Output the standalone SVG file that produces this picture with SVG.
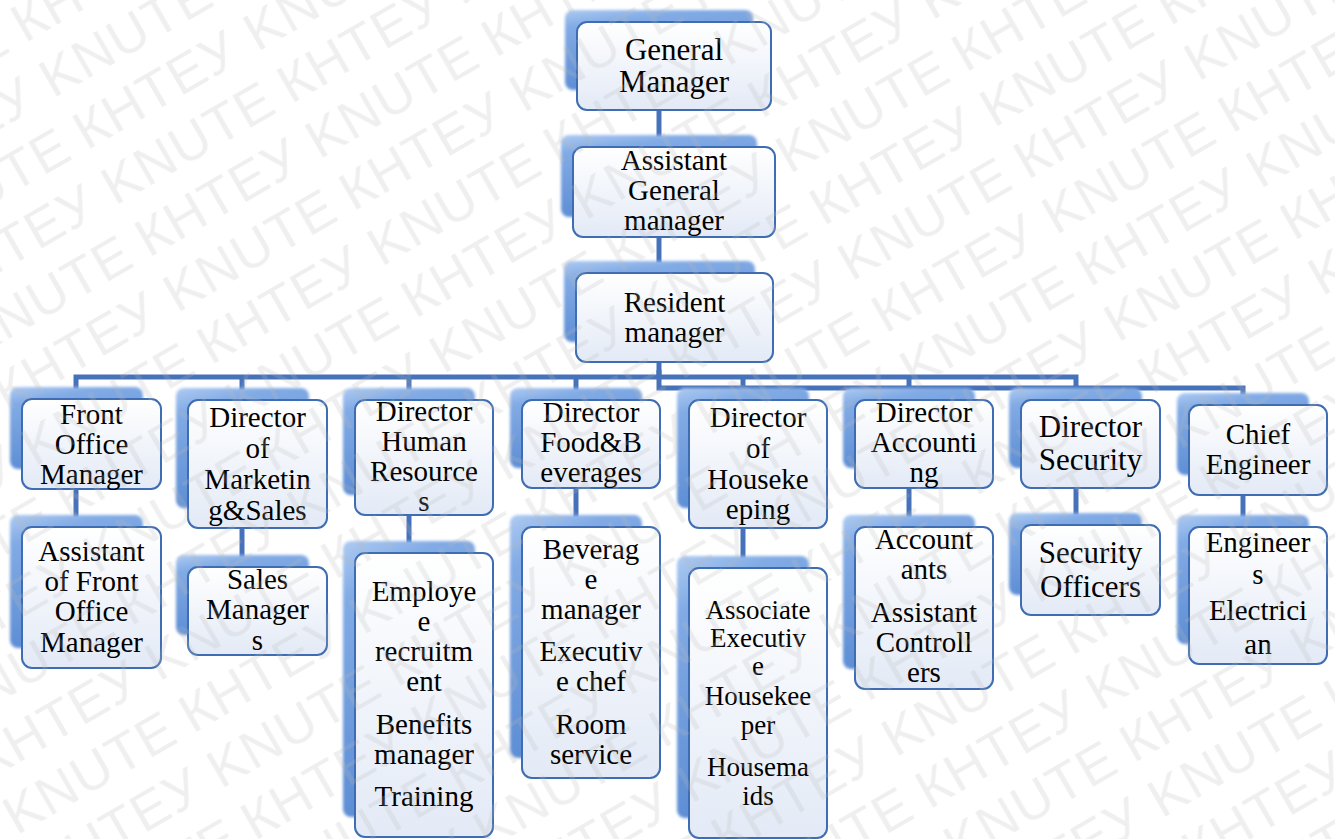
<svg xmlns="http://www.w3.org/2000/svg" width="1335" height="839" viewBox="0 0 1335 839">
<defs>
<linearGradient id="boxg" x1="0" y1="0" x2="0" y2="1">
<stop offset="0" stop-color="#FFFFFF"/>
<stop offset="1" stop-color="#E3EAF6"/>
</linearGradient>
<linearGradient id="shg" x1="0" y1="0" x2="0.3" y2="1">
<stop offset="0" stop-color="#AECBF2"/>
<stop offset="0.2" stop-color="#82ABE5"/>
<stop offset="1" stop-color="#5A8BD3"/>
</linearGradient>
<filter id="blur" x="-20%" y="-20%" width="140%" height="140%">
<feGaussianBlur stdDeviation="1.6"/>
</filter>
<pattern id="wm" patternUnits="userSpaceOnUse" width="400" height="124" patternTransform="rotate(-30)">
<g font-family="Liberation Sans, Arial, sans-serif" font-size="54" fill="#B8B8B8">
<text x="-400" y="50" textLength="385">КНТЕУ KNUTE</text>
<text x="0" y="50" textLength="385">КНТЕУ KNUTE</text>
<text x="400" y="50" textLength="385">КНТЕУ KNUTE</text>
<text x="-200" y="112" textLength="385">КНТЕУ KNUTE</text>
<text x="200" y="112" textLength="385">КНТЕУ KNUTE</text>
<text x="600" y="112" textLength="385">КНТЕУ KNUTE</text>
</g>
</pattern>
<style>
.box{fill:url(#boxg);stroke:#3E6DB3;stroke-width:2}
.sh{fill:url(#shg);filter:url(#blur)}
.conn{fill:none;stroke:#4672BA;stroke-width:5}
#nodes text{font-family:"Liberation Serif",Tinos,"Times New Roman",Times,"Nimbus Roman","Nimbus Roman No9 L",FreeSerif,"DejaVu Serif","Noto Serif",serif}
</style>
</defs>
<rect width="1335" height="839" fill="#FFFFFF"/>

<g id="connectors">
<path class="conn" d="M659,108 V137"/>
<path class="conn" d="M659,235 V263"/>
<path class="conn" d="M659,360 V377 H76 V389"/>
<path class="conn" d="M242,377 V390"/>
<path class="conn" d="M409,377 V390"/>
<path class="conn" d="M576,377 V390"/>
<path class="conn" d="M659,377 H1076 V390"/>
<path class="conn" d="M743,377 V390"/>
<path class="conn" d="M909,377 V390"/>
<path class="conn" d="M659,370 V388 H1243 V395"/>
<path class="conn" d="M76,487 V517"/>
<path class="conn" d="M242,526 V557"/>
<path class="conn" d="M409,513 V543"/>
<path class="conn" d="M576,486 V517"/>
<path class="conn" d="M743,526 V558"/>
<path class="conn" d="M909,486 V517"/>
<path class="conn" d="M1076,486 V515"/>
<path class="conn" d="M1243,493 V517"/>
</g>

<g id="nodes" font-family="Liberation Serif, Tinos, Times New Roman, serif" font-size="29" fill="#000000" text-anchor="middle">
<g id="n-gm">
<rect class="sh" x="565" y="10" width="188" height="80" rx="8"/>
<rect class="box" x="577" y="22" width="194" height="88" rx="10"/>
<text font-size="31"><tspan x="674" y="60">General</tspan><tspan x="674" y="92">Manager</tspan></text>
</g>
<g id="n-agm">
<rect class="sh" x="561" y="135" width="196" height="82" rx="8"/>
<rect class="box" x="573" y="147" width="202" height="90" rx="10"/>
<text><tspan x="674" y="170">Assistant</tspan><tspan x="674" y="200">General</tspan><tspan x="674" y="230">manager</tspan></text>
</g>
<g id="n-rm">
<rect class="sh" x="564" y="261" width="191" height="81" rx="8"/>
<rect class="box" x="576" y="273" width="197" height="89" rx="10"/>
<text><tspan x="674.5" y="312">Resident</tspan><tspan x="674.5" y="342">manager</tspan></text>
</g>

<g id="n-fo">
<rect class="sh" x="10" y="387" width="133" height="82" rx="8"/>
<rect class="box" x="22" y="399" width="139" height="90" rx="10"/>
<text><tspan x="91.5" y="424">Front</tspan><tspan x="91.5" y="454">Office</tspan><tspan x="91.5" y="484">Manager</tspan></text>
</g>
<g id="n-mkt">
<rect class="sh" x="176" y="388" width="133" height="120" rx="8"/>
<rect class="box" x="188" y="400" width="139" height="128" rx="10"/>
<text><tspan x="257.5" y="427">Director</tspan><tspan x="257.5" y="458">of</tspan><tspan x="257.5" y="489">Marketin</tspan><tspan x="257.5" y="520">g&amp;Sales</tspan></text>
</g>
<g id="n-hr">
<rect class="sh" x="343" y="388" width="132" height="107" rx="8"/>
<rect class="box" x="355" y="400" width="138" height="115" rx="10"/>
<text><tspan x="424" y="421">Director</tspan><tspan x="424" y="451">Human</tspan><tspan x="424" y="481">Resource</tspan><tspan x="424" y="511">s</tspan></text>
</g>
<g id="n-fb">
<rect class="sh" x="510" y="388" width="132" height="80" rx="8"/>
<rect class="box" x="522" y="400" width="138" height="88" rx="10"/>
<text><tspan x="591" y="422">Director</tspan><tspan x="591" y="452">Food&amp;B</tspan><tspan x="591" y="482">everages</tspan></text>
</g>
<g id="n-hk">
<rect class="sh" x="677" y="388" width="132" height="120" rx="8"/>
<rect class="box" x="689" y="400" width="138" height="128" rx="10"/>
<text><tspan x="758" y="427">Director</tspan><tspan x="758" y="458">of</tspan><tspan x="758" y="489">Houseke</tspan><tspan x="758" y="519">eping</tspan></text>
</g>
<g id="n-acc">
<rect class="sh" x="843" y="388" width="132" height="80" rx="8"/>
<rect class="box" x="855" y="400" width="138" height="88" rx="10"/>
<text><tspan x="924" y="422">Director</tspan><tspan x="924" y="452">Accounti</tspan><tspan x="924" y="482">ng</tspan></text>
</g>
<g id="n-sec">
<rect class="sh" x="1009" y="388" width="133" height="80" rx="8"/>
<rect class="box" x="1021" y="400" width="139" height="88" rx="10"/>
<text font-size="31"><tspan x="1090.5" y="437">Director</tspan><tspan x="1090.5" y="470">Security</tspan></text>
</g>
<g id="n-ce">
<rect class="sh" x="1177" y="393" width="132" height="82" rx="8"/>
<rect class="box" x="1189" y="405" width="138" height="90" rx="10"/>
<text><tspan x="1258" y="444">Chief</tspan><tspan x="1258" y="474">Engineer</tspan></text>
</g>

<g id="n-fo2">
<rect class="sh" x="10" y="515" width="133" height="133" rx="8"/>
<rect class="box" x="22" y="527" width="139" height="141" rx="10"/>
<text><tspan x="91.5" y="561">Assistant</tspan><tspan x="91.5" y="591">of Front</tspan><tspan x="91.5" y="621">Office</tspan><tspan x="91.5" y="652">Manager</tspan></text>
</g>
<g id="n-mkt2">
<rect class="sh" x="176" y="555" width="133" height="80" rx="8"/>
<rect class="box" x="188" y="567" width="139" height="88" rx="10"/>
<text><tspan x="257.5" y="589">Sales</tspan><tspan x="257.5" y="619">Manager</tspan><tspan x="257.5" y="650">s</tspan></text>
</g>
<g id="n-hr2">
<rect class="sh" x="343" y="541" width="132" height="276" rx="8"/>
<rect class="box" x="355" y="553" width="138" height="284" rx="10"/>
<text><tspan x="424" y="601">Employe</tspan><tspan x="424" y="631">e</tspan><tspan x="424" y="661">recruitm</tspan><tspan x="424" y="691">ent</tspan><tspan x="424" y="734">Benefits</tspan><tspan x="424" y="764">manager</tspan><tspan x="424" y="806">Training</tspan></text>
</g>
<g id="n-fb2">
<rect class="sh" x="510" y="515" width="132" height="243" rx="8"/>
<rect class="box" x="522" y="527" width="138" height="251" rx="10"/>
<text><tspan x="591" y="559">Beverag</tspan><tspan x="591" y="589">e</tspan><tspan x="591" y="619">manager</tspan><tspan x="591" y="661">Executiv</tspan><tspan x="591" y="691">e chef</tspan><tspan x="591" y="734">Room</tspan><tspan x="591" y="764">service</tspan></text>
</g>
<g id="n-hk2">
<rect class="sh" x="677" y="556" width="132" height="262" rx="8"/>
<rect class="box" x="689" y="568" width="138" height="270" rx="10"/>
<text font-size="27"><tspan x="758" y="619">Associate</tspan><tspan x="758" y="647">Executiv</tspan><tspan x="758" y="675">e</tspan><tspan x="758" y="705">Housekee</tspan><tspan x="758" y="734">per</tspan><tspan x="758" y="776">Housema</tspan><tspan x="758" y="805">ids</tspan></text>
</g>
<g id="n-acc2">
<rect class="sh" x="843" y="515" width="132" height="154" rx="8"/>
<rect class="box" x="855" y="527" width="138" height="162" rx="10"/>
<text><tspan x="924" y="549">Account</tspan><tspan x="924" y="579">ants</tspan><tspan x="924" y="622">Assistant</tspan><tspan x="924" y="652">Controll</tspan><tspan x="924" y="682">ers</tspan></text>
</g>
<g id="n-sec2">
<rect class="sh" x="1009" y="513" width="133" height="82" rx="8"/>
<rect class="box" x="1021" y="525" width="139" height="90" rx="10"/>
<text font-size="31"><tspan x="1090.5" y="563">Security</tspan><tspan x="1090.5" y="597">Officers</tspan></text>
</g>
<g id="n-ce2">
<rect class="sh" x="1177" y="515" width="132" height="129" rx="8"/>
<rect class="box" x="1189" y="527" width="138" height="137" rx="10"/>
<text><tspan x="1258" y="552">Engineer</tspan><tspan x="1258" y="584">s</tspan><tspan x="1258" y="620">Electrici</tspan><tspan x="1258" y="654">an</tspan></text>
</g>
</g>

<rect id="watermark" width="1335" height="839" fill="url(#wm)" opacity="0.22" pointer-events="none"/>
</svg>
